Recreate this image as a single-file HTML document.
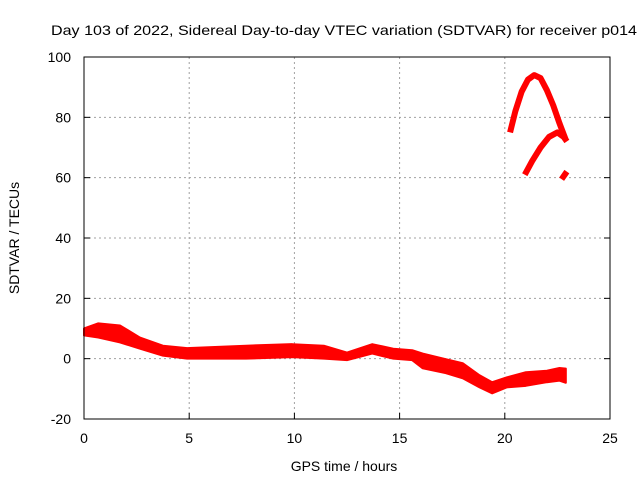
<!DOCTYPE html>
<html><head><meta charset="utf-8"><style>
html,body{margin:0;padding:0;background:#fff;}
svg{display:block;font-family:"Liberation Sans",sans-serif;}
</style></head><body>
<svg id="chart" width="640" height="480" viewBox="0 0 640 480">
<text x="344" y="35" font-size="14" text-anchor="middle" textLength="586" lengthAdjust="spacingAndGlyphs">Day 103 of 2022, Sidereal Day-to-day VTEC variation (SDTVAR) for receiver p014</text>
<g id="grid"></g>
<g id="axes"></g>
<g id="series"></g>
<rect x="84" y="57" width="526" height="362" fill="none" stroke="#000" stroke-width="1"/>
<text x="344" y="471" font-size="14" text-anchor="middle">GPS time / hours</text>
<text transform="translate(19,238) rotate(-90)" font-size="14" text-anchor="middle">SDTVAR / TECUs</text>
</svg>
<script>
const xTicks=[0,5,10,15,20,25];
const yTicks=[-20,0,20,40,60,80,100];
const bandHours=[0,0.68,1.71,2.66,3.75,4.9,7.7,9.9,11.4,12.5,13.7,14.7,15.6,16.1,17.2,18,18.8,19.4,20.1,21,22,22.6,22.9];
const bandUpper=[10,11.7,11,7,4.3,3.5,4.3,4.8,4.3,2,4.8,3.3,2.8,1.7,-0.2,-1.5,-5.5,-7.8,-6.2,-4.5,-4,-3.1,-3.3];
const bandLower=[7.7,7,5.4,3.3,1,0,0,0.5,0,-0.5,1.7,0,-0.5,-3.2,-4.8,-6.5,-9.5,-11.5,-9.5,-9,-7.8,-7.3,-8];
const arc1Hours=[20.25,20.5,20.8,21.1,21.4,21.7,22.0,22.3,22.6,22.9];
const arc1Values=[75,82,88.5,92.5,94,93,89,84,78,72.5];
const arc2Hours=[20.95,21.3,21.7,22.1,22.5,22.8,22.95];
const arc2Values=[61,65.5,70,73.5,75,73.5,72];
const arc3Hours=[22.7,22.95];
const arc3Values=[59.5,62];

const NS='http://www.w3.org/2000/svg';
const X=h=>84+h*(526/25);
const Y=v=>419-(v+20)*(362/120);
function mk(tag,attrs,parent){const e=document.createElementNS(NS,tag);for(const k in attrs)e.setAttribute(k,attrs[k]);parent.appendChild(e);return e;}
const grid=document.getElementById('grid'),axes=document.getElementById('axes'),ser=document.getElementById('series');
xTicks.forEach(t=>{
  if(t>0&&t<25){const l=mk('line',{x1:X(t),x2:X(t),y1:57,y2:419,stroke:'#a0a0a0','stroke-dasharray':'2,3'},grid);
  
  }
  const tk=mk('line',{x1:X(t),x2:X(t),y1:419,y2:413,stroke:'#000'},axes);
  
  
  const tx=mk('text',{x:X(t),y:443,'font-size':14,'text-anchor':'middle'},axes);tx.textContent=t;
  
  
});
yTicks.forEach(t=>{
  if(t>-20&&t<100){const l=mk('line',{x1:84,x2:610,y1:Y(t),y2:Y(t),stroke:'#a0a0a0','stroke-dasharray':'2,3'},grid);
  
  }
  const tk=mk('line',{x1:84,x2:90,y1:Y(t),y2:Y(t),stroke:'#000'},axes);
  
  
  const tk2=mk('line',{x1:604,x2:610,y1:Y(t),y2:Y(t),stroke:'#000'},axes);
  
  
  const tx=mk('text',{x:71,y:Y(t)+5,'font-size':14,'text-anchor':'end'},axes);tx.textContent=t;
  
  
});
let pts=bandHours.map((h,i)=>X(h)+','+Y(bandUpper[i]));
for(let i=bandHours.length-1;i>=0;i--)pts.push(X(bandHours[i])+','+Y(bandLower[i]));
const band=mk('polygon',{points:pts.join(' '),fill:'#ff0000',stroke:'#ff0000','stroke-width':2,'stroke-linejoin':'round'},ser);


[[arc1Hours,arc1Values,'arc-upper'],[arc2Hours,arc2Values,'arc-lower'],[arc3Hours,arc3Values,'arc-small']].forEach(([hs,vs,n])=>{
  const p=mk('polyline',{points:hs.map((h,i)=>X(h)+','+Y(vs[i])).join(' '),fill:'none',stroke:'#ff0000','stroke-width':6,'stroke-linejoin':'round'},ser);
  
  
});
</script>
</body></html>
